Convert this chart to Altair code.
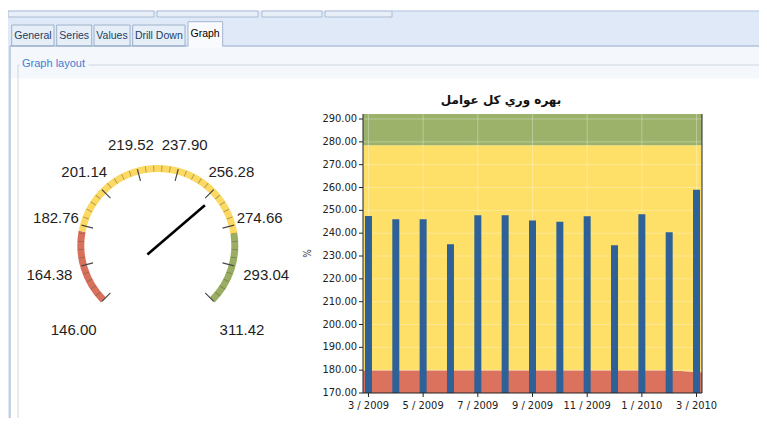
import math
import altair as alt
import pandas as pd

# ---------------- data ----------------
months = ["3 / 2009", "4 / 2009", "5 / 2009", "6 / 2009", "7 / 2009", "8 / 2009",
          "9 / 2009", "10 / 2009", "11 / 2009", "12 / 2009", "1 / 2010", "2 / 2010", "3 / 2010"]
productivity = [247.5, 246.1, 246.1, 235.1, 247.8, 247.8, 245.5, 245.0, 247.4, 234.7, 248.3, 240.4, 259.0]
red_upper = [180.0, 180.0, 180.0, 180.0, 180.0, 180.0, 180.0, 180.0, 180.0, 180.0, 180.0, 180.0, 179.2]
green_lower = [278.5] * 13
y_ticks = [170, 180, 190, 200, 210, 220, 230, 240, 250, 260, 270, 280, 290]
x_tick_index = [0, 2, 4, 6, 8, 10, 12]
y_title = "%"

gauge_min, gauge_max = 146.00, 311.42
gauge_labels = [146.00, 164.38, 182.76, 201.14, 219.52, 237.90, 256.28, 274.66, 293.04, 311.42]
gauge_band_start = [146.00, 180.0, 278.5]
gauge_band_end = [180.0, 278.5, 311.42]
gauge_band_color = ["#d9705c", "#fbd962", "#99ae62"]
needle_value = 259.0

title_text = "بهره وري كل عوامل"
tab_names = ["General", "Series", "Values", "Drill Down"]
selected_tab = "Graph"
group_title = "Graph layout"

# ---------------- layout ----------------
PI = math.pi
W, H = 751, 410
X_DOM = [-0.2, 12.2]
Y_DOM = [170.0, 292.2]
x_sc = alt.Scale(domain=X_DOM, range=[350, 699], nice=False, zero=False)
y_sc = alt.Scale(domain=Y_DOM, range=[385, 106], nice=False, zero=False)

AX_FONT = "DejaVu Sans Condensed, Liberation Sans Narrow, Liberation Sans"
one = pd.DataFrame({"k": [0]})

idx = list(range(len(months)))
bars_df = pd.DataFrame({"i": idx, "month": months, "value": productivity})
band_x = [X_DOM[0]] + idx + [X_DOM[1]]
red_ext = [red_upper[0]] + red_upper + [red_upper[-1] + (red_upper[-1] - red_upper[-2]) * 0.2]
green_ext = [green_lower[0]] + green_lower + [green_lower[-1]]
bands_df = pd.DataFrame({"x": band_x, "floor": Y_DOM[0], "red": red_ext,
                         "green": green_ext, "ceil": Y_DOM[1]})
xt_df = pd.DataFrame({"i": x_tick_index, "lab": [months[k] for k in x_tick_index]})
yt_df = pd.DataFrame({"v": y_ticks})

XL = alt.XDatum(X_DOM[0], scale=x_sc, axis=None)
YB = alt.YDatum(Y_DOM[0], scale=y_sc, axis=None)


def band(lo, hi, color):
    return alt.Chart(bands_df).mark_area(color=color, opacity=1).encode(
        x=alt.X("x:Q", scale=x_sc, axis=None),
        y=alt.Y(lo + ":Q", scale=y_sc, axis=None),
        y2=alt.Y2(hi + ":Q"))


bands = band("floor", "red", "#db725e") + band("red", "green", "#fedf67") + band("green", "ceil", "#9cb26b")

hgrid = alt.Chart(pd.DataFrame({"v": y_ticks[1:]})).mark_rule(color="white", opacity=0.3).encode(
    y=alt.Y("v:Q", scale=y_sc, axis=None), x=XL, x2=alt.X2Datum(X_DOM[1]))
vgrid = alt.Chart(pd.DataFrame({"i": x_tick_index})).mark_rule(color="white", opacity=0.3).encode(
    x=alt.X("i:Q", scale=x_sc, axis=None), y=YB, y2=alt.Y2Datum(Y_DOM[1]))
bars = alt.Chart(bars_df).mark_bar(color="#2e6197", size=7).encode(
    x=alt.X("i:Q", scale=x_sc, axis=None),
    y=alt.Y("value:Q", scale=y_sc, axis=None),
    y2=alt.Y2Datum(Y_DOM[0]))
frame_v = alt.Chart(pd.DataFrame({"xb": X_DOM})).mark_rule(color="#222").encode(
    x=alt.X("xb:Q", scale=x_sc, axis=None), y=YB, y2=alt.Y2Datum(Y_DOM[1]))
frame_h = alt.Chart(one).mark_rule(color="#222").encode(y=YB, x=XL, x2=alt.X2Datum(X_DOM[1]))

# axis ticks and labels drawn through the same scales
y_tick_marks = alt.Chart(yt_df).mark_rule(color="#222", x2Offset=-4).encode(
    y=alt.Y("v:Q", scale=y_sc, axis=None), x=XL, x2=alt.X2Datum(X_DOM[0]))
y_tick_labels = alt.Chart(yt_df).mark_text(font=AX_FONT, fontSize=11, color="#222", align="right",
                                           baseline="middle", dx=-6).encode(
    y=alt.Y("v:Q", scale=y_sc, axis=None), x=XL, text=alt.Text("v:Q", format=".2f"))
x_tick_marks = alt.Chart(xt_df).mark_rule(color="#222", y2Offset=4).encode(
    x=alt.X("i:Q", scale=x_sc, axis=None), y=YB, y2=alt.Y2Datum(Y_DOM[0]))
x_tick_labels = alt.Chart(xt_df).mark_text(font=AX_FONT, fontSize=11, color="#222", align="center",
                                           baseline="top", dy=7).encode(
    x=alt.X("i:Q", scale=x_sc, axis=None), y=YB, text="lab:N")
y_title_mark = alt.Chart(pd.DataFrame({"t": [y_title]})).mark_text(
    font=AX_FONT, fontSize=10, color="#444", angle=270, align="center", baseline="middle", dy=-55).encode(
    x=XL, y=alt.YDatum((Y_DOM[0] + Y_DOM[1]) / 2, scale=y_sc, axis=None), text="t:N")

bar_chart = alt.layer(bands, hgrid, vgrid, bars, frame_v, frame_h,
                      y_tick_marks, y_tick_labels, x_tick_marks, x_tick_labels, y_title_mark)

# ---------------- gauge ----------------
GCX, GCY, R_OUT = 149.8, 237.5, 80.5
gx = alt.Scale(domain=[-1, 1], range=[GCX - R_OUT, GCX + R_OUT], nice=False, zero=False)
gy = alt.Scale(domain=[-1, 1], range=[GCY + R_OUT, GCY - R_OUT], nice=False, zero=False)
th = alt.Scale(domain=[gauge_min, gauge_max], range=[-0.75 * PI, 0.75 * PI], nice=False, zero=False)
span = gauge_max - gauge_min
ang_expr = "(datum.v - %f) / %f * 1.5 * PI - 0.75 * PI" % (gauge_min, span)
cx = alt.XDatum(0, scale=gx, axis=None)
cy = alt.YDatum(0, scale=gy, axis=None)

gband_df = pd.DataFrame({"s": gauge_band_start, "e": gauge_band_end, "c": gauge_band_color})
garcs = alt.Chart(gband_df).mark_arc(radius=80.5, radius2=73.5).encode(
    x=cx, y=cy,
    theta=alt.Theta("s:Q", scale=th, stack=False), theta2=alt.Theta2("e:Q"),
    color=alt.Color("c:N", scale=None))

step = (gauge_labels[1] - gauge_labels[0]) / 5
minor_vals = [round(gauge_labels[k] + step * j, 3) for k in range(len(gauge_labels) - 1) for j in range(1, 5)]
major_df = pd.DataFrame({"v": gauge_labels})
minor_df = pd.DataFrame({"v": minor_vals})

minor_ticks = alt.Chart(minor_df).transform_calculate(
    t0="datum.v - 0.2", t1="datum.v + 0.2").mark_arc(radius=80, radius2=74, color="#6b6040", opacity=0.55).encode(
    x=cx, y=cy, theta=alt.Theta("t0:Q", scale=th, stack=False), theta2=alt.Theta2("t1:Q"))
major_ticks = alt.Chart(major_df).transform_calculate(
    t0="datum.v - 0.3", t1="datum.v + 0.3").mark_arc(radius=79, radius2=67, color="#4a4a4a").encode(
    x=cx, y=cy, theta=alt.Theta("t0:Q", scale=th, stack=False), theta2=alt.Theta2("t1:Q"))

glabels = alt.Chart(major_df).transform_calculate(
    a=ang_expr).transform_calculate(
    lr="104 + 15 * max(0, abs(datum.a) - 1.2) / 1.156").mark_text(
    font="Liberation Sans, Arial", fontSize=15, color="#1e1e1e", align="center", baseline="middle").encode(
    x=cx, y=cy, theta=alt.Theta("v:Q", scale=th, stack=False),
    radius=alt.Radius("lr:Q", scale=None), text=alt.Text("v:Q", format=".2f"))

needle = alt.Chart(pd.DataFrame({"v": [needle_value]})).transform_calculate(
    a=ang_expr).transform_calculate(
    tx="-0.17 * sin(datum.a)", ty="-0.17 * cos(datum.a)",
    hx="0.77 * sin(datum.a)", hy="0.77 * cos(datum.a)").mark_rule(
    color="black", strokeWidth=2.6).encode(
    x=alt.X("tx:Q", scale=gx, axis=None), y=alt.Y("ty:Q", scale=gy, axis=None),
    x2=alt.X2("hx:Q"), y2=alt.Y2("hy:Q"))

gauge = alt.layer(garcs, minor_ticks, major_ticks, glabels, needle)

# ---------------- window chrome ----------------
rects = pd.DataFrame([
    dict(x=0, x2=751, y=3, y2=38, fill="#dfe9f7", stroke="#dfe9f7"),
    dict(x=2, x2=751, y=38, y2=70, fill="#f4f7fb", stroke="#f4f7fb"),
    dict(x=0, x2=2, y=38, y2=410, fill="#dfe9f7", stroke="#dfe9f7"),
    dict(x=0, x2=146, y=3, y2=9, fill="#e8eff8", stroke="#a9bcd4"),
    dict(x=149, x2=250, y=3, y2=9, fill="#e8eff8", stroke="#a9bcd4"),
    dict(x=254, x2=314, y=3, y2=9, fill="#e8eff8", stroke="#a9bcd4"),
    dict(x=317, x2=384, y=3, y2=9, fill="#e8eff8", stroke="#a9bcd4"),
    dict(x=3.7, x2=46, y=17, y2=38, fill="#e6eef8", stroke="#9fb2cb"),
    dict(x=48.7, x2=83.7, y=17, y2=38, fill="#e6eef8", stroke="#9fb2cb"),
    dict(x=86, x2=122, y=17, y2=38, fill="#e6eef8", stroke="#9fb2cb"),
    dict(x=124.7, x2=177, y=17, y2=38, fill="#e6eef8", stroke="#9fb2cb"),
])
lines = pd.DataFrame([
    dict(x=384, x2=751, y=3, y2=3, c="#b4c7df"),
    dict(x=2, x2=751, y=38, y2=38, c="#8fa7c6"),
    dict(x=2, x2=2, y=38, y2=410, c="#9fb2cb"),
    dict(x=10, x2=751, y=57, y2=57, c="#cfd7e1"),
    dict(x=10, x2=10, y=57, y2=410, c="#cfd7e1"),
])
sel_rect = pd.DataFrame([dict(x=180, x2=214.7, y=13.7, y2=39.5, fill="#f8fafd", stroke="#f8fafd"),
                         dict(x=12, x2=80, y=50, y2=63, fill="#f4f7fb", stroke="#f4f7fb")])
sel_lines = pd.DataFrame([
    dict(x=180, x2=180, y=13.7, y2=38.5, c="#9fb2cb"),
    dict(x=180, x2=214.7, y=13.7, y2=13.7, c="#9fb2cb"),
    dict(x=214.7, x2=214.7, y=13.7, y2=38.5, c="#9fb2cb"),
])


def rect_layer(df):
    return alt.Chart(df).mark_rect(strokeWidth=1).encode(
        x=alt.X("x:Q", scale=None), x2="x2:Q", y=alt.Y("y:Q", scale=None), y2="y2:Q",
        fill=alt.Fill("fill:N", scale=None), stroke=alt.Stroke("stroke:N", scale=None))


def line_layer(df):
    return alt.Chart(df).mark_rule(strokeWidth=1).encode(
        x=alt.X("x:Q", scale=None), x2="x2:Q", y=alt.Y("y:Q", scale=None), y2="y2:Q",
        color=alt.Color("c:N", scale=None))


tab_pos = pd.DataFrame({"name": tab_names, "cxp": [24.9, 66.2, 104.0, 150.8]})
tab_text = alt.Chart(tab_pos).mark_text(font="Liberation Sans", fontSize=10.5, color="#1e3c64",
                                        align="center", baseline="middle").encode(
    x=alt.X("cxp:Q", scale=None), y=alt.value(27.5), text="name:N")
sel_text = alt.Chart(pd.DataFrame({"t": [selected_tab]})).mark_text(
    font="Liberation Sans", fontSize=10.5, color="#000", align="left", baseline="middle").encode(
    x=alt.value(182.5), y=alt.value(25.5), text="t:N")
group_text = alt.Chart(pd.DataFrame({"t": [group_title]})).mark_text(
    font="Liberation Sans", fontSize=11, color="#3d7fd3", align="left", baseline="middle").encode(
    x=alt.value(14), y=alt.value(56), text="t:N")

chrome = alt.layer(rect_layer(rects), line_layer(lines), rect_layer(sel_rect), line_layer(sel_lines),
                   tab_text, sel_text, group_text)

title = alt.Chart(pd.DataFrame({"t": [title_text]})).mark_text(
    font="DejaVu Sans", fontSize=12, fontWeight="bold", color="#111", align="center",
    baseline="middle").encode(x=alt.value(493), y=alt.value(92), text="t:N")
cover = alt.Chart(one).mark_rect(color="white").encode(
    x=alt.value(709), x2=alt.value(751), y=alt.value(389), y2=alt.value(410))

chart = alt.layer(chrome, bar_chart, gauge, title, cover).resolve_scale(
    x="independent", y="independent").properties(
    width=W, height=H, padding=0, autosize=alt.AutoSizeParams(type="none"),
    background="white").configure_view(strokeWidth=0)

chart.save("out.html", embed_options={"renderer": "svg", "actions": False})
